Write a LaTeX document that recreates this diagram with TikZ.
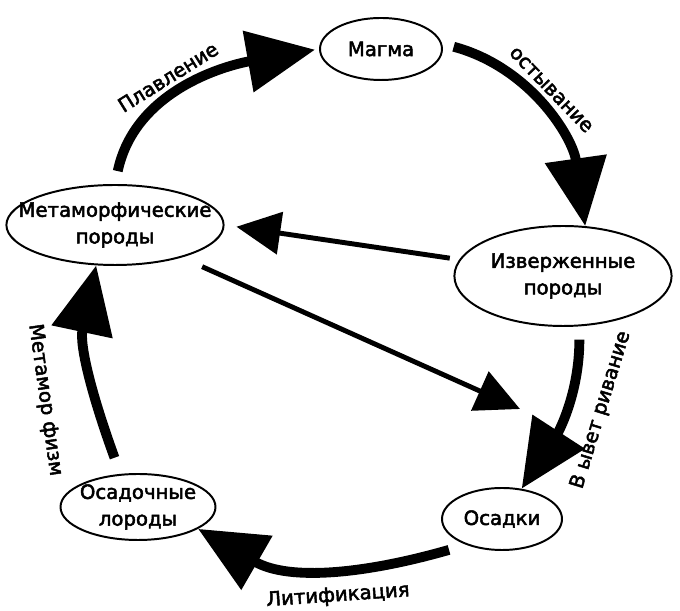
\documentclass[tikz,border=0pt]{standalone}
\usepackage{fontspec}
\setmainfont{DejaVu Sans}[FakeBold=2.5]
\usepackage{tikz}
\usetikzlibrary{positioning}
\usetikzlibrary{arrows.meta,shapes}

\begin{document}
\begin{tikzpicture}[every node/.style={inner sep=0pt},x=1cm,y=1cm,
rock/.style={ellipse,draw=black,line width=1.4pt,inner xsep=-0.6cm,align=center,font=\fontsize{14}{19}\selectfont},
cyc/.style={line width=7pt,-{Triangle[length=1.7cm,width=1.5cm]}},
cross/.style={line width=3.5pt,-{Triangle[length=1.1cm,width=1.05cm]}},
lbl/.style={font=\fontsize{14}{17}\selectfont}]
\useasboundingbox (0,0) rectangle (17,15.275);
\node[rock,minimum width=3.05cm,minimum height=1.55cm] (magma) at (9.525,14.05) {Магма};
\node[rock,minimum width=5.43cm,minimum height=2.0cm] (meta) at (2.875,9.65) {Метаморфические\\породы};
\node[rock,minimum width=5.43cm,minimum height=2.5cm] (igne) at (14.075,8.375) {Изверженные\\породы};
\node[rock,minimum width=3.0cm,minimum height=1.55cm] (sed) at (12.55,2.3) {Осадки};
\node[rock,minimum width=3.875cm,minimum height=1.65cm] (sedrock) at (3.45,2.6) {Осадочные\\лороды};
\coordinate (drop) at (13.0,5.05);
\draw[cyc,shorten <=0.33cm,shorten >=0.1cm] (meta.north) to[out=78,in=190] (magma.west);
\draw[cyc,shorten <=0.3cm] (magma.5) to[out=-15,in=98] (igne.66);
\draw[cyc,shorten <=0.33cm] (igne.-72) to[out=-90,in=57] (sed.57);
\draw[cyc,shorten <=0.45cm] (sed.-144) to[out=196,in=-30] (sedrock.-20);
\draw[cyc,shorten <=0.43cm] (sedrock.118) to[out=110,in=-102] (meta.-115);
\draw[cross,shorten <=0.24cm,shorten >=0.3cm] (igne.171) -- (meta.east);
\draw[cross,shorten <=0.56cm] (meta.-26) -- (drop);
\node[lbl,rotate=32] (melt) at (4.2,13.35) {Плавление};
\node[lbl,rotate=-46] (cool) at (13.775,13.025) {остывание};
\node[lbl,rotate=-82] (morph) at (1.125,5.275) {Метамор физм};
\node[lbl,rotate=73] (weath) at (15.025,5.025) {В ывет ривание};
\node[lbl,rotate=4] (lith) at (8.45,0.375) {Литификация};
\end{tikzpicture}
\end{document}
